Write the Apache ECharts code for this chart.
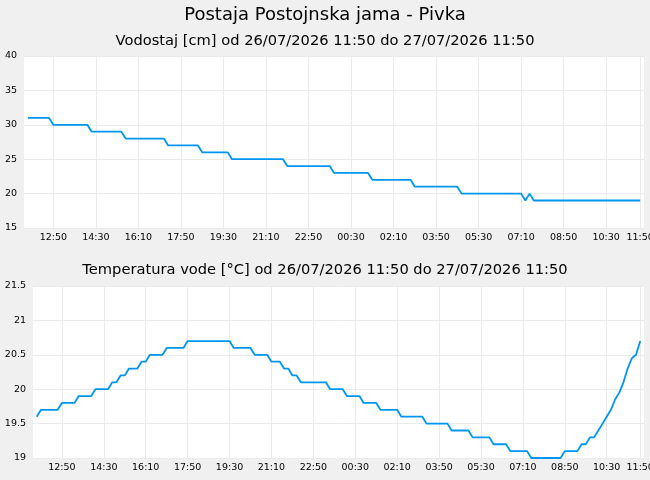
<!DOCTYPE html>
<html>
<head>
<meta charset="utf-8">
<script src="https://cdn.jsdelivr.net/npm/echarts@6/dist/echarts.min.js"></script>
<style>
  html, body { margin: 0; padding: 0; background: #f0f0f0; }
  #chart { width: 650px; height: 480px; }
</style>
</head>
<body>
<div id="chart"></div>
<script>
// minute offsets from 26/07/2026 11:50
var startMinute = 11 * 60 + 50;
var tickMinutes = [60, 160, 260, 360, 460, 560, 660, 760, 860, 960, 1060, 1160, 1260, 1360, 1440];

// vodostaj [cm]
var levelMin = [0, 50, 60, 140, 150, 220, 230, 320, 330, 400, 410, 470, 480, 600, 610, 710, 720, 800, 810, 900, 910, 1010, 1020, 1160, 1170, 1180, 1190, 1440];
var levelVal = [31, 31, 30, 30, 29, 29, 28, 28, 27, 27, 26, 26, 25, 25, 24, 24, 23, 23, 22, 22, 21, 21, 20, 20, 19, 20, 19, 19];

// temperatura vode [°C]
var tempMin = [0, 10, 50, 60, 90, 100, 130, 140, 170, 180, 190, 200, 210, 220, 240, 250, 260, 270, 300, 310, 350, 360,
  460, 470, 510, 520, 550, 560, 580, 590, 600, 610, 620, 630, 690, 700, 730, 740, 770, 780, 810, 820, 860, 870,
  920, 930, 980, 990, 1030, 1040, 1080, 1090, 1120, 1130, 1170, 1180, 1250, 1260, 1290, 1300, 1310, 1320, 1330,
  1340, 1350, 1360, 1370, 1380, 1390, 1400, 1410, 1420, 1430, 1440];
var tempVal = [19.6, 19.7, 19.7, 19.8, 19.8, 19.9, 19.9, 20.0, 20.0, 20.1, 20.1, 20.2, 20.2, 20.3, 20.3, 20.4, 20.4, 20.5, 20.5, 20.6, 20.6, 20.7,
  20.7, 20.6, 20.6, 20.5, 20.5, 20.4, 20.4, 20.3, 20.3, 20.2, 20.2, 20.1, 20.1, 20.0, 20.0, 19.9, 19.9, 19.8, 19.8, 19.7, 19.7, 19.6,
  19.6, 19.5, 19.5, 19.4, 19.4, 19.3, 19.3, 19.2, 19.2, 19.1, 19.1, 19.0, 19.0, 19.1, 19.1, 19.2, 19.2, 19.3, 19.3,
  19.4, 19.5, 19.6, 19.7, 19.85, 19.95, 20.1, 20.3, 20.45, 20.5, 20.7];

function pairs(xs, ys) {
  var out = [];
  for (var i = 0; i < xs.length; i++) out.push([xs[i], ys[i]]);
  return out;
}

function clock(m) {
  var t = (startMinute + m) % 1440;
  var h = Math.floor(t / 60), mm = t % 60;
  return (h < 10 ? '0' : '') + h + ':' + (mm < 10 ? '0' : '') + mm;
}

var font = 'DejaVu Sans';
var gridColor = '#ebebeb';
var lineColor = '#0096f0';

function xAxisFor(idx) {
  return {
    type: 'value', gridIndex: idx, min: -9, max: 1449,
    axisLine: { show: false },
    axisTick: { show: false, customValues: tickMinutes },
    axisLabel: { customValues: tickMinutes, formatter: clock, color: '#000', fontFamily: font, fontSize: 9.5, margin: 5 },
    splitLine: { show: true, lineStyle: { color: gridColor, width: 1 } }
  };
}

var chart = echarts.init(document.getElementById('chart'));
var option = {
  animation: false,
  backgroundColor: '#f0f0f0',
  title: [
    { text: 'Postaja Postojnska jama - Pivka', left: 'center', top: 6, padding: 0,
      textStyle: { fontFamily: font, fontSize: 18, fontWeight: 'normal', color: '#000' } },
    { text: 'Vodostaj [cm] od 26/07/2026 11:50 do 27/07/2026 11:50', left: 'center', top: 34, padding: 0,
      textStyle: { fontFamily: font, fontSize: 14.67, fontWeight: 'normal', color: '#000' } },
    { text: 'Temperatura vode [°C] od 26/07/2026 11:50 do 27/07/2026 11:50', left: 'center', top: 263, padding: 0,
      textStyle: { fontFamily: font, fontSize: 14.67, fontWeight: 'normal', color: '#000' } }
  ],
  grid: [
    { left: 24, right: 6, top: 56, height: 172, backgroundColor: '#fff', show: true, borderWidth: 0, outerBoundsMode: 'none' },
    { left: 33, right: 6, top: 286, height: 172, backgroundColor: '#fff', show: true, borderWidth: 0, outerBoundsMode: 'none' }
  ],
  xAxis: [xAxisFor(0), xAxisFor(1)],
  yAxis: [
    { type: 'value', gridIndex: 0, min: 15, max: 40, interval: 5,
      axisLine: { show: false }, axisTick: { show: false },
      axisLabel: { color: '#000', fontFamily: font, fontSize: 9.5, margin: 7 },
      splitLine: { lineStyle: { color: gridColor } } },
    { type: 'value', gridIndex: 1, min: 19, max: 21.5, interval: 0.5,
      axisLine: { show: false }, axisTick: { show: false },
      axisLabel: { color: '#000', fontFamily: font, fontSize: 9.5, margin: 7 },
      splitLine: { lineStyle: { color: gridColor } } }
  ],
  series: [
    { type: 'line', xAxisIndex: 0, yAxisIndex: 0, data: pairs(levelMin, levelVal),
      showSymbol: false, lineStyle: { color: lineColor, width: 1.8 } },
    { type: 'line', xAxisIndex: 1, yAxisIndex: 1, data: pairs(tempMin, tempVal),
      showSymbol: false, lineStyle: { color: lineColor, width: 1.8 } }
  ]
};
chart.setOption(option);
</script>
</body>
</html>
